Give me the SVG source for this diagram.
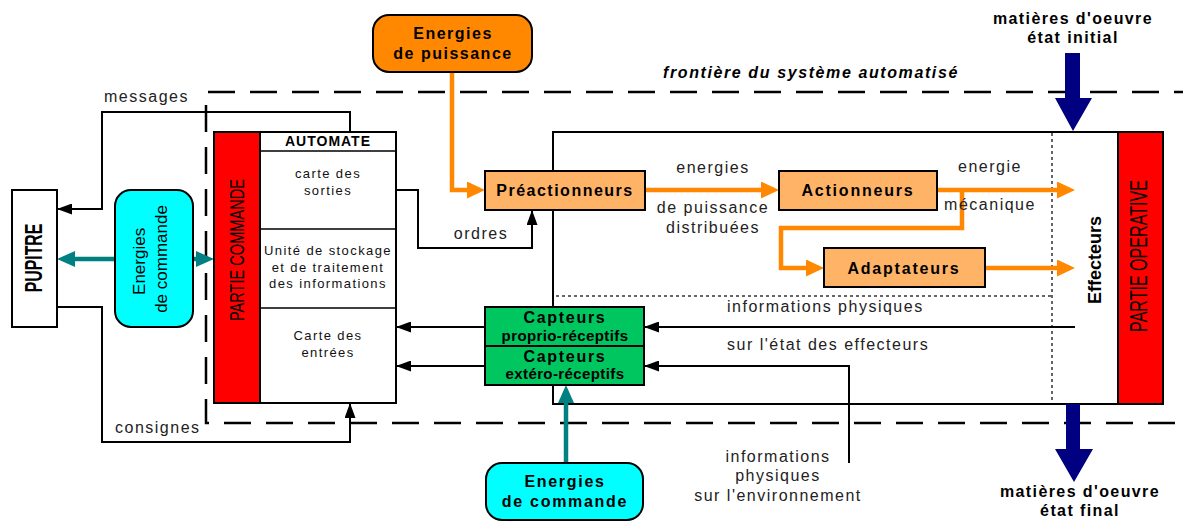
<svg xmlns="http://www.w3.org/2000/svg" width="1183" height="523" viewBox="0 0 1183 523">
  <style>
    .box { stroke: #000; stroke-width: 2; }
    .lbl { font-family: "Liberation Sans", Arial, sans-serif; font-size: 16px; letter-spacing: 1.5px; fill: #222; }
    .small { font-family: "Liberation Sans", Arial, sans-serif; font-size: 13px; letter-spacing: 1.4px; fill: #111; }
    .bold { font-family: "Liberation Sans", Arial, sans-serif; font-size: 16px; font-weight: bold; letter-spacing: 1.5px; fill: #000; }
    .mid { text-anchor: middle; }
    .wire { fill: none; stroke: #000; stroke-width: 2; }
    .power { fill: none; stroke: #FF8800; stroke-width: 4.5; }
    .cmd { fill: none; stroke: #008080; stroke-width: 4.5; }
    .border { fill: none; stroke: #000; stroke-width: 2.5; stroke-dasharray: 27 15; }
    .dots { fill: none; stroke: #333; stroke-width: 1.5; stroke-dasharray: 3 3; }
  </style>
  <defs>
    <marker id="ah-black" markerUnits="userSpaceOnUse" markerWidth="15" markerHeight="11" refX="15" refY="5.5" orient="auto">
      <path d="M0,0 L15,5.5 L0,11 z" fill="#000"/>
    </marker>
    <marker id="ah-orange" markerUnits="userSpaceOnUse" markerWidth="18" markerHeight="17" refX="13" refY="8.5" orient="auto">
      <path d="M0,0 L18,8.5 L0,17 z" fill="#FF8800"/>
    </marker>
    <marker id="ah-teal" markerUnits="userSpaceOnUse" markerWidth="18" markerHeight="16" refX="12" refY="8" orient="auto">
      <path d="M0,0 L18,8 L0,16 z" fill="#008080"/>
    </marker>
  </defs>

  <rect width="1183" height="523" fill="#fff"/>

  <!-- boundary of the automated system -->
  <g id="frontiere">
    <path class="border" d="M208,92 H1183"/>
    <path class="border" d="M206,105 V423 H1183"/>
    <text class="bold" x="663" y="78" style="font-style:italic;letter-spacing:1.6px">frontière du système automatisé</text>
  </g>

  <!-- operative part frame -->
  <g id="partie-operative">
    <rect x="553" y="132" width="610" height="272" fill="none" class="box"/>
    <path class="dots" d="M1052,133 V403"/>
    <path class="dots" d="M556,296 H1052"/>
    <rect x="1118" y="132" width="45" height="272" fill="#FF0000" class="box"/>
    <text transform="translate(1147,256) rotate(-90) scale(0.67,1)" text-anchor="middle" style="font-family:'Liberation Sans',Arial,sans-serif;font-size:24px;fill:#000">PARTIE OPERATIVE</text>
  </g>

  <g id="effecteurs">
    <text transform="translate(1101,260) rotate(-90)" text-anchor="middle" style="font-family:'Liberation Sans',Arial,sans-serif;font-size:18px;font-weight:bold;fill:#000">Effecteurs</text>
  </g>

  <!-- connectors -->
  <g id="connectors">
    <path class="wire" d="M350,132 V112 H102 V209 H57" marker-end="url(#ah-black)"/>
    <path class="wire" d="M57,307 H102 V442 H350 V403" marker-end="url(#ah-black)"/>
    <path class="wire" d="M396,190 H418 V248 H532 V210" marker-end="url(#ah-black)"/>
    <path class="wire" d="M485,327 H396" marker-end="url(#ah-black)"/>
    <path class="wire" d="M485,366 H396" marker-end="url(#ah-black)"/>
    <path class="wire" d="M1075,327 H644" marker-end="url(#ah-black)"/>
    <path class="wire" d="M849,463 V366 H644" marker-end="url(#ah-black)"/>

    <path class="power" d="M452,72 V190 H480" marker-end="url(#ah-orange)"/>
    <path class="power" d="M645,190 H774" marker-end="url(#ah-orange)"/>
    <path class="power" d="M937,190 H1070" marker-end="url(#ah-orange)"/>
    <path class="power" d="M962,190 V228 H781 V268 H819" marker-end="url(#ah-orange)"/>
    <path class="power" d="M985,268 H1070" marker-end="url(#ah-orange)"/>

    <path class="cmd" d="M115,259 H63" marker-end="url(#ah-teal)"/>
    <path class="cmd" d="M193,259 H208" marker-end="url(#ah-teal)"/>
    <path class="cmd" d="M566,463 V391" marker-end="url(#ah-teal)"/>

    <!-- work material in / out -->
    <path d="M1065,53 H1080 V98 H1092 L1073,131 L1055,98 H1065 z" fill="#000080"/>
    <path d="M1066,404 H1080 V449 H1093 L1074,482 L1055,449 H1066 z" fill="#000080"/>

    <text class="lbl" x="104" y="102">messages</text>
    <text class="lbl" x="115" y="433">consignes</text>
    <text class="lbl mid" x="481" y="239">ordres</text>
    <text class="lbl mid" x="713" y="173">energies</text>
    <text class="lbl mid" x="713" y="213">de puissance</text>
    <text class="lbl mid" x="713" y="233">distribuées</text>
    <text class="lbl mid" x="990" y="172">energie</text>
    <text class="lbl mid" x="990" y="210">mécanique</text>
    <text class="lbl" x="727" y="312">informations physiques</text>
    <text class="lbl" x="727" y="350">sur l'état des effecteurs</text>
    <text class="lbl mid" x="778" y="462">informations</text>
    <text class="lbl mid" x="778" y="481">physiques</text>
    <text class="lbl mid" x="778" y="501">sur l'environnement</text>
    <text class="bold mid" x="1073" y="24" style="letter-spacing:1.4px">matières d'oeuvre</text>
    <text class="bold mid" x="1073" y="43" style="letter-spacing:1.4px">état initial</text>
    <text class="bold mid" x="1080" y="497" style="letter-spacing:1.4px">matières d'oeuvre</text>
    <text class="bold mid" x="1080" y="516" style="letter-spacing:1.4px">état final</text>
  </g>

  <g id="pupitre">
    <rect x="12" y="190" width="45" height="137" fill="#fff" class="box"/>
    <text transform="translate(42,258) rotate(-90) scale(0.69,1)" text-anchor="middle" style="font-family:'Liberation Sans',Arial,sans-serif;font-size:23px;font-weight:bold;fill:#000">PUPITRE</text>
  </g>

  <g id="energies-commande-pupitre">
    <rect x="115" y="190" width="78" height="137" rx="16" fill="#00FFFF" class="box"/>
    <text transform="translate(154,259) rotate(-90)" text-anchor="middle" style="font-family:'Liberation Sans',Arial,sans-serif;font-size:17px;fill:#000">
      <tspan x="0" y="-9">Energies</tspan>
      <tspan x="0" y="13">de commande</tspan>
    </text>
  </g>

  <g id="automate">
    <rect x="214" y="132" width="182" height="271" fill="#fff" class="box"/>
    <rect x="214" y="132" width="46" height="271" fill="#FF0000" class="box"/>
    <path class="wire" d="M260,151 H396 M260,229 H396 M260,308 H396" style="stroke-width:1.5"/>
    <text class="bold mid" x="328" y="146" style="font-size:14px;letter-spacing:1px">AUTOMATE</text>
    <text class="small mid" x="328" y="178">carte des</text>
    <text class="small mid" x="328" y="195">sorties</text>
    <text class="small mid" x="328" y="255">Unité de stockage</text>
    <text class="small mid" x="328" y="272">et de traitement</text>
    <text class="small mid" x="328" y="288">des informations</text>
    <text class="small mid" x="328" y="340">Carte des</text>
    <text class="small mid" x="328" y="357">entrées</text>
    <text transform="translate(244,250) rotate(-90) scale(0.695,1)" text-anchor="middle" style="font-family:'Liberation Sans',Arial,sans-serif;font-size:21px;fill:#000">PARTIE COMMANDE</text>
  </g>

  <g id="energies-puissance">
    <rect x="373" y="15" width="159" height="57" rx="16" fill="#FF8800" class="box"/>
    <text class="bold mid" x="453" y="39">Energies</text>
    <text class="bold mid" x="453" y="59">de puissance</text>
  </g>

  <g id="preactionneurs">
    <rect x="485" y="171" width="160" height="39" fill="#FFB366" class="box"/>
    <text class="bold mid" x="565" y="196">Préactionneurs</text>
  </g>

  <g id="actionneurs">
    <rect x="779" y="171" width="158" height="39" fill="#FFB366" class="box"/>
    <text class="bold mid" x="858" y="196" style="letter-spacing:1.8px">Actionneurs</text>
  </g>

  <g id="adaptateurs">
    <rect x="824" y="248" width="161" height="39" fill="#FFB366" class="box"/>
    <text class="bold mid" x="904" y="274" style="letter-spacing:1.8px">Adaptateurs</text>
  </g>

  <g id="capteurs-proprio">
    <rect x="485" y="307" width="159" height="39" fill="#00C660" class="box"/>
    <text class="bold mid" x="565" y="323" style="letter-spacing:1.7px">Capteurs</text>
    <text class="bold mid" x="565" y="341" style="font-size:15px;letter-spacing:0.4px">proprio-réceptifs</text>
  </g>

  <g id="capteurs-extero">
    <rect x="485" y="346" width="159" height="39" fill="#00C660" class="box"/>
    <text class="bold mid" x="565" y="362" style="letter-spacing:1.7px">Capteurs</text>
    <text class="bold mid" x="565" y="379" style="font-size:15px;letter-spacing:0.4px">extéro-réceptifs</text>
  </g>

  <g id="energies-commande-capteurs">
    <rect x="486" y="463" width="157" height="57" rx="16" fill="#00FFFF" class="box"/>
    <text class="bold mid" x="565" y="487" style="letter-spacing:1.7px">Energies</text>
    <text class="bold mid" x="565" y="507" style="letter-spacing:1.7px">de commande</text>
  </g>
</svg>
